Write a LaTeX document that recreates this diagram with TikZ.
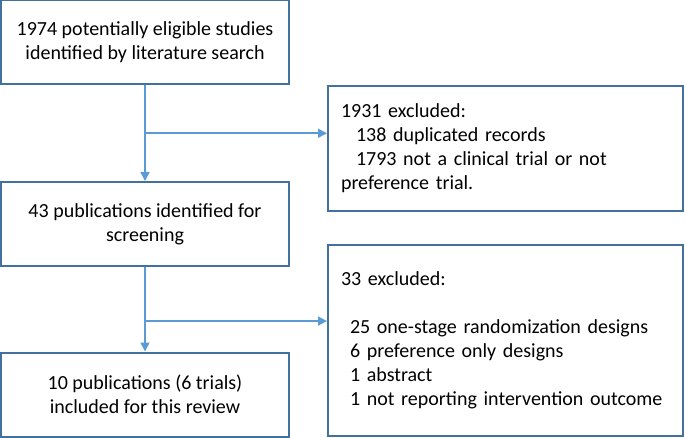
\documentclass[tikz,border=0pt]{standalone}
\usepackage{fontspec}
\setmainfont{Carlito}
\usepackage{tikz}
\usetikzlibrary{arrows.meta,calc}
\usepackage{color}
\definecolor{boxline}{HTML}{41719C}
\definecolor{flowblue}{HTML}{5B9BD5}

\begin{document}
\begin{tikzpicture}[x=1pt,y=-1pt,
        stagebox/.style={draw=boxline, line width=2pt, minimum width=288pt, minimum height=84pt,
            inner sep=0pt, align=center, font=\fontsize{20}{24}\selectfont},
        exclbox/.style={draw=boxline, line width=2pt, text width=329pt, inner xsep=13pt,
            inner ysep=0pt, align=left, font=\fontsize{20}{24}\selectfont},
        flow/.style={draw=flowblue, line width=1.5pt, -{Triangle[length=9pt,width=9pt]}}]
        \useasboundingbox (0,0) rectangle (685,438);
        % stages
        \node[stagebox] (search) at (145,42.5) {1974 potentially eligible studies\\identified by literature search};
        \node[stagebox] (screen) at (145,224) {43 publications identified for\\screening};
        \node[stagebox] (review) at (145,394.5) {10 publications (6 trials)\\included for this review};
        % exclusions
        \node[exclbox, minimum height=125pt] (exclA) at (505.5,148.5)
            {1931 excluded:\\\hspace*{15pt}138 duplicated records\\\hspace*{15pt}1793 not a clinical trial or not\\preference trial.};
        \node[exclbox, minimum height=191pt] (exclB) at (505.5,340.5)
            {33 excluded:\\[24pt]\hspace*{9pt}25 one-stage randomization designs\\\hspace*{9pt}6 preference only designs\\\hspace*{9pt}1 abstract\\\hspace*{9pt}1 not reporting intervention outcome};
        % connectors
        \coordinate (splitA) at ($(search.south)!0.5!(screen.north)$);
        \coordinate (splitB) at ($(screen.south)!0.64!(review.north)$);
        \draw[flow] (search.south) -- (screen.north);
        \draw[flow] (splitA) -- (splitA -| exclA.west);
        \draw[flow] (screen.south) -- (review.north);
        \draw[flow] (splitB) -- (splitB -| exclB.west);
    \end{tikzpicture}
\end{document}
